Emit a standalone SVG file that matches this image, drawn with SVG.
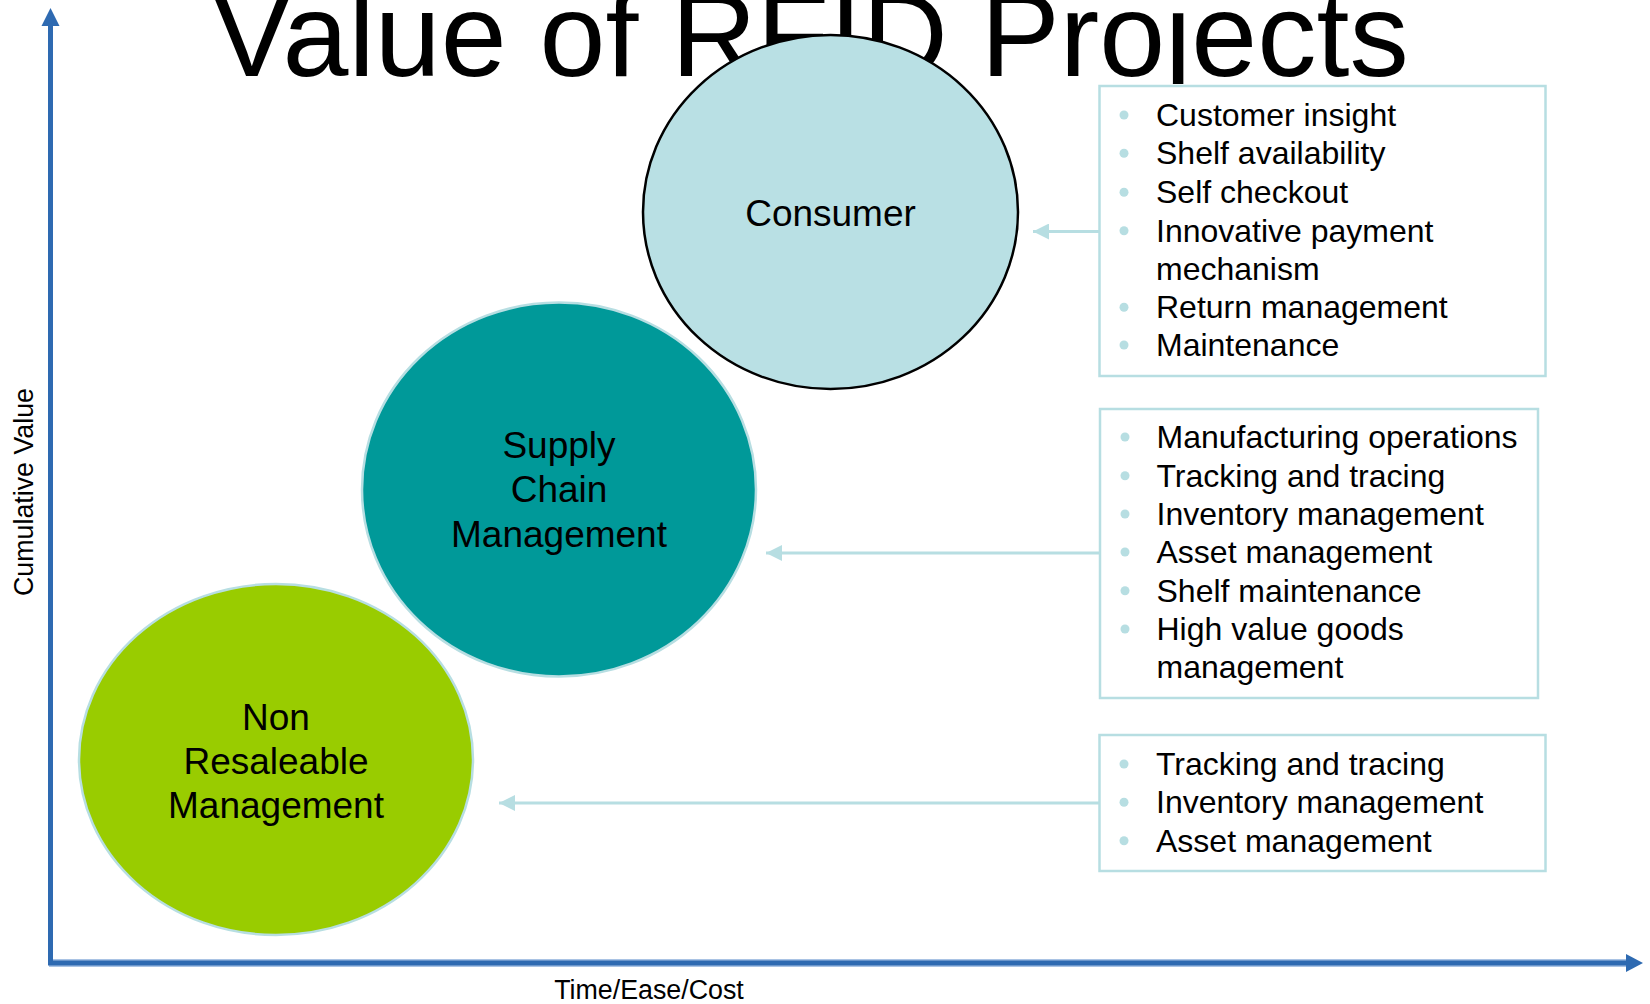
<svg xmlns="http://www.w3.org/2000/svg" width="1650" height="1004" viewBox="0 0 1650 1004">
  <style>
    text { font-family: "Liberation Sans", Arial, sans-serif; fill: #000; }
    .title { font-size: 118.5px; }
    .axis-label { font-size: 26.8px; }
    .node-label { font-size: 37px; text-anchor: middle; }
    .item { font-size: 32px; }
    .box { fill: #fff; stroke: #B7DEE2; stroke-width: 2.5; }
    .bullet { fill: #B7DEE2; }
    .link { stroke: #B7DEE2; stroke-width: 3; fill: none; marker-end: url(#arrowLink); }
    .axis { stroke: #2E6AB1; stroke-width: 5; fill: none; }
    .axis-glow { stroke: #A9C3E4; stroke-width: 8; fill: none; }
  </style>
  <defs>
    <clipPath id="titleClip">
      <rect x="0" y="0" width="1650" height="84"/>
    </clipPath>
    <marker id="arrowLink" markerUnits="userSpaceOnUse" markerWidth="18" markerHeight="16" refX="16" refY="8" orient="auto">
      <path d="M0,0 L16,8 L0,16 Z" fill="#B7DEE2"/>
    </marker>
  </defs>

  <rect width="1650" height="1004" fill="#fff"/>

  <!-- Title, clipped at the bottom of its frame -->
  <g id="title" clip-path="url(#titleClip)">
    <text class="title" x="810.5" y="76" text-anchor="middle">Value of RFID Projects</text>
  </g>

  <!-- Axes -->
  <g id="axes">
    <line class="axis-glow" x1="49" y1="963" x2="1628" y2="963"/>
    <line class="axis" x1="50.5" y1="24" x2="50.5" y2="965"/>
    <path d="M41.5,26 L50.5,8 L59.5,26 Z" fill="#2E6AB1"/>
    <line class="axis" x1="48" y1="963" x2="1628" y2="963"/>
    <path d="M1626,954 L1643,963 L1626,972 Z" fill="#2E6AB1"/>
    <text class="axis-label" x="33" y="492" text-anchor="middle" transform="rotate(-90 33 492)">Cumulative Value</text>
    <text class="axis-label" x="649" y="999" text-anchor="middle">Time/Ease/Cost</text>
  </g>

  <!-- Value stages -->
  <g id="node-non-resaleable">
    <ellipse cx="276" cy="759.5" rx="197" ry="175.5" fill="#99CC00" stroke="#B7DEE2" stroke-width="2.5"/>
    <text class="node-label" x="276" y="730">Non</text>
    <text class="node-label" x="276" y="774">Resaleable</text>
    <text class="node-label" x="276" y="818">Management</text>
  </g>

  <g id="node-supply-chain">
    <ellipse cx="559" cy="489.5" rx="197" ry="187" fill="#009999" stroke="#B7DEE2" stroke-width="2.5"/>
    <text class="node-label" x="559" y="458">Supply</text>
    <text class="node-label" x="559" y="502">Chain</text>
    <text class="node-label" x="559" y="547">Management</text>
  </g>

  <g id="node-consumer">
    <ellipse cx="830.5" cy="212" rx="187.5" ry="177" fill="#B9E0E4" stroke="#000" stroke-width="2.5"/>
    <text class="node-label" x="830.5" y="226">Consumer</text>
  </g>

  <!-- Benefit lists -->
  <g id="list-consumer">
    <rect class="box" x="1099.5" y="86" width="446" height="290"/>
    <circle class="bullet" cx="1124" cy="115" r="4.5"/>
    <circle class="bullet" cx="1124" cy="153.3" r="4.5"/>
    <circle class="bullet" cx="1124" cy="192.3" r="4.5"/>
    <circle class="bullet" cx="1124" cy="230.7" r="4.5"/>
    <circle class="bullet" cx="1124" cy="307.3" r="4.5"/>
    <circle class="bullet" cx="1124" cy="345" r="4.5"/>
    <text class="item" x="1156" y="126">Customer insight</text>
    <text class="item" x="1156" y="164.3">Shelf availability</text>
    <text class="item" x="1156" y="203.3">Self checkout</text>
    <text class="item" x="1156" y="241.7">Innovative payment</text>
    <text class="item" x="1156" y="280">mechanism</text>
    <text class="item" x="1156" y="318.3">Return management</text>
    <text class="item" x="1156" y="356">Maintenance</text>
  </g>

  <g id="list-supply-chain">
    <rect class="box" x="1100" y="409" width="438" height="289"/>
    <circle class="bullet" cx="1125" cy="437" r="4.5"/>
    <circle class="bullet" cx="1125" cy="475.7" r="4.5"/>
    <circle class="bullet" cx="1125" cy="514" r="4.5"/>
    <circle class="bullet" cx="1125" cy="552" r="4.5"/>
    <circle class="bullet" cx="1125" cy="590.7" r="4.5"/>
    <circle class="bullet" cx="1125" cy="629" r="4.5"/>
    <text class="item" x="1156.5" y="448">Manufacturing operations</text>
    <text class="item" x="1156.5" y="486.7">Tracking and tracing</text>
    <text class="item" x="1156.5" y="525">Inventory management</text>
    <text class="item" x="1156.5" y="563">Asset management</text>
    <text class="item" x="1156.5" y="601.7">Shelf maintenance</text>
    <text class="item" x="1156.5" y="640">High value goods</text>
    <text class="item" x="1156.5" y="677.7">management</text>
  </g>

  <g id="list-non-resaleable">
    <rect class="box" x="1099.5" y="735" width="446" height="136"/>
    <circle class="bullet" cx="1124" cy="764" r="4.5"/>
    <circle class="bullet" cx="1124" cy="802.3" r="4.5"/>
    <circle class="bullet" cx="1124" cy="840.7" r="4.5"/>
    <text class="item" x="1156" y="775">Tracking and tracing</text>
    <text class="item" x="1156" y="813.3">Inventory management</text>
    <text class="item" x="1156" y="851.7">Asset management</text>
  </g>

  <!-- Connectors from each list to its stage -->
  <g id="connectors">
    <line class="link" x1="1099.5" y1="231.5" x2="1033" y2="231.5"/>
    <line class="link" x1="1100" y1="553" x2="766" y2="553"/>
    <line class="link" x1="1099.5" y1="803" x2="499" y2="803"/>
  </g>
</svg>
